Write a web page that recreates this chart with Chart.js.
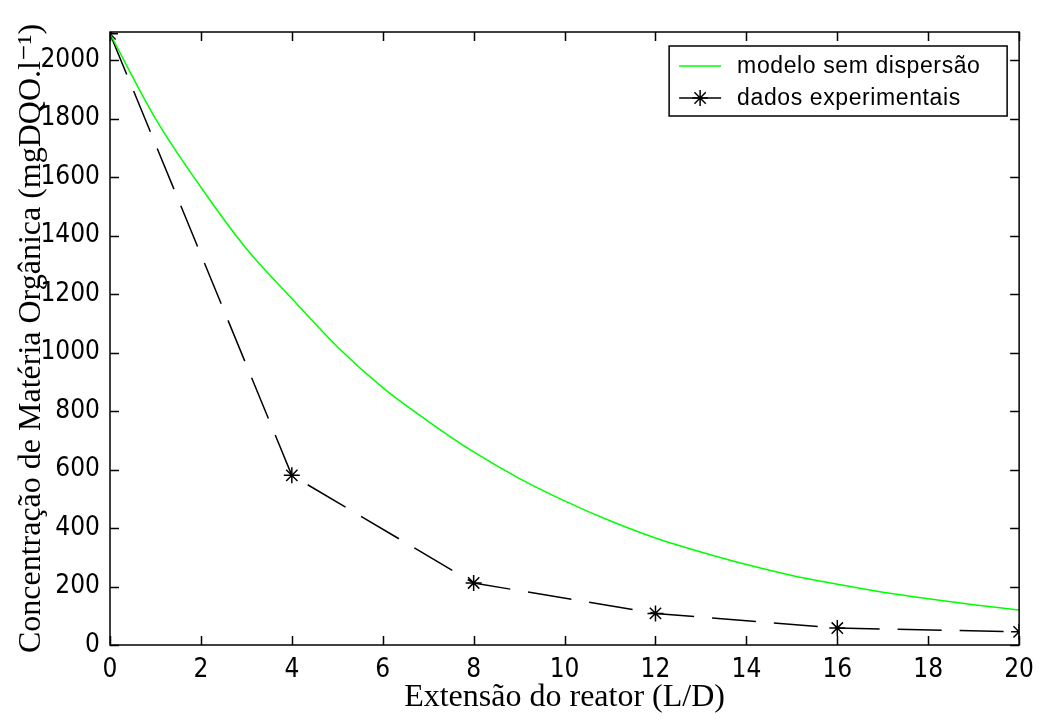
<!DOCTYPE html>
<html>
<head>
<meta charset="utf-8">
<script src="https://cdn.jsdelivr.net/npm/chart.js@4.4.0/dist/chart.umd.min.js"></script>
<style>
  html, body { margin: 0; padding: 0; background: #fff; }
  #wrap { width: 1044px; height: 722px; position: relative; }
</style>
</head>
<body>
<div id="wrap"><canvas id="chart"></canvas></div>
<script>
"use strict";
// model curve
var modelX = [0, 1, 2, 3, 4, 5, 6, 7, 8, 9, 10, 11, 12, 13, 14, 15, 16, 17, 18, 19, 20];
var modelY = [2090, 1800, 1565, 1355, 1185, 1020, 880, 765, 660, 570, 493, 425, 366, 318, 275, 238, 208, 180, 158, 138, 120];
// experimental points
var expX = [0, 4, 8, 12, 16, 20];
var expY = [2090, 580, 212, 108, 58, 45];

var xTicks = [0, 2, 4, 6, 8, 10, 12, 14, 16, 18, 20];
var yTicks = [0, 200, 400, 600, 800, 1000, 1200, 1400, 1600, 1800, 2000];

var legendLabels = ["modelo sem dispersão", "dados experimentais"];

var tickFont = { family: "'Liberation Sans Narrow', 'DejaVu Sans Condensed', 'Liberation Sans', sans-serif", size: 26 };
var titleFont = { family: "'Liberation Serif', 'DejaVu Serif', serif", size: 32 };

function toPoints(xs, ys) {
  return xs.map(function (x, i) { return { x: x, y: ys[i] }; });
}

function plainTick(v) {
  return String(v);
}

// box around plot area with inward ticks, matlab style
var framePlugin = {
  id: "frame",
  afterDraw: function (chart) {
    var ctx = chart.ctx;
    var a = chart.chartArea;
    var sx = chart.scales.x;
    var sy = chart.scales.y;
    var tl = 9;
    ctx.save();
    ctx.strokeStyle = "#000";
    ctx.lineWidth = 1.5;
    ctx.strokeRect(a.left, a.top, a.right - a.left, a.bottom - a.top);
    ctx.beginPath();
    xTicks.forEach(function (v) {
      var px = Math.round(sx.getPixelForValue(v)) + 0.5;
      ctx.moveTo(px, a.bottom);
      ctx.lineTo(px, a.bottom - tl);
      ctx.moveTo(px, a.top);
      ctx.lineTo(px, a.top + tl);
    });
    yTicks.forEach(function (v) {
      var py = Math.round(sy.getPixelForValue(v)) + 0.5;
      ctx.moveTo(a.left, py);
      ctx.lineTo(a.left + tl, py);
      ctx.moveTo(a.right, py);
      ctx.lineTo(a.right - tl, py);
    });
    ctx.stroke();

    // legend box, top right inside the axes
    var bw = 338, bh = 70;
    var bx = a.right - 12 - bw;
    var by = a.top + 14;
    ctx.fillStyle = "#fff";
    ctx.fillRect(bx, by, bw, bh);
    ctx.lineWidth = 1.5;
    ctx.strokeRect(bx, by, bw, bh);
    var rows = [by + 20, by + 52];
    var ds = chart.data.datasets;
    ctx.font = "23px 'Liberation Sans', Arial, sans-serif";
    ctx.textBaseline = "middle";
    ctx.fillStyle = "#000";
    if ("letterSpacing" in ctx) ctx.letterSpacing = "0.6px";
    ds.forEach(function (d, i) {
      var y = rows[i];
      ctx.save();
      ctx.strokeStyle = d.borderColor;
      ctx.lineWidth = d.borderWidth;
      ctx.beginPath();
      ctx.moveTo(bx + 10, y);
      ctx.lineTo(bx + 52, y);
      ctx.stroke();
      if (d.pointRadius > 0) {
        Chart.helpers.drawPoint(ctx, {
          pointStyle: d.pointStyle, radius: d.pointRadius, borderWidth: d.pointBorderWidth
        }, bx + 31, y);
      }
      ctx.restore();
      ctx.fillText(legendLabels[i], bx + 68, y + 1);
    });
    ctx.restore();
  }
};

new Chart(document.getElementById("chart"), {
  type: "line",
  data: {
    datasets: [
      {
        label: legendLabels[0],
        data: toPoints(modelX, modelY),
        borderColor: "#00ff00",
        borderWidth: 1.5,
        pointRadius: 0,
        tension: 0.4,
        cubicInterpolationMode: "monotone",
        fill: false,
      },
      {
        label: legendLabels[1],
        data: toPoints(expX, expY),
        borderColor: "#000",
        borderWidth: 1.5,
        borderDash: [44, 18],
        pointStyle: "star",
        pointRadius: 8,
        pointBorderColor: "#000",
        pointBorderWidth: 1.5,
        tension: 0,
        fill: false,
      },
    ],
  },
  options: {
    responsive: true,
    maintainAspectRatio: false,
    animation: false,
    layout: { padding: { top: 32, right: 15, left: 0, bottom: 0 } },
    plugins: {
      legend: { display: false },
      tooltip: { enabled: false },
    },
    scales: {
      x: {
        type: "linear",
        min: 0,
        max: 20,
        afterBuildTicks: function (s) { s.ticks = xTicks.map(function (v) { return { value: v }; }); },
        afterFit: function (s) { s.height = 77; },
        grid: { display: false, drawTicks: false },
        border: { display: false },
        ticks: { color: "#000", font: tickFont, padding: 10, autoSkip: false, maxRotation: 0, callback: plainTick },
        title: {
          display: true,
          text: "Extensão do reator (L/D)",
          color: "#000",
          font: titleFont,
          padding: { top: 0, bottom: 5 },
        },
      },
      y: {
        type: "linear",
        min: 0,
        max: 2096,
        afterBuildTicks: function (s) { s.ticks = yTicks.map(function (v) { return { value: v }; }); },
        afterFit: function (s) { s.width = 110; },
        grid: { display: false, drawTicks: false },
        border: { display: false },
        ticks: { color: "#000", font: tickFont, padding: 10, autoSkip: false, callback: plainTick },
        title: {
          display: true,
          text: "Concentração de Matéria Orgânica (mgDQO.l⁻¹)",
          color: "#000",
          font: titleFont,
          padding: { top: 12, bottom: 0 },
        },
      },
    },
  },
  plugins: [framePlugin],
});
</script>
</body>
</html>
